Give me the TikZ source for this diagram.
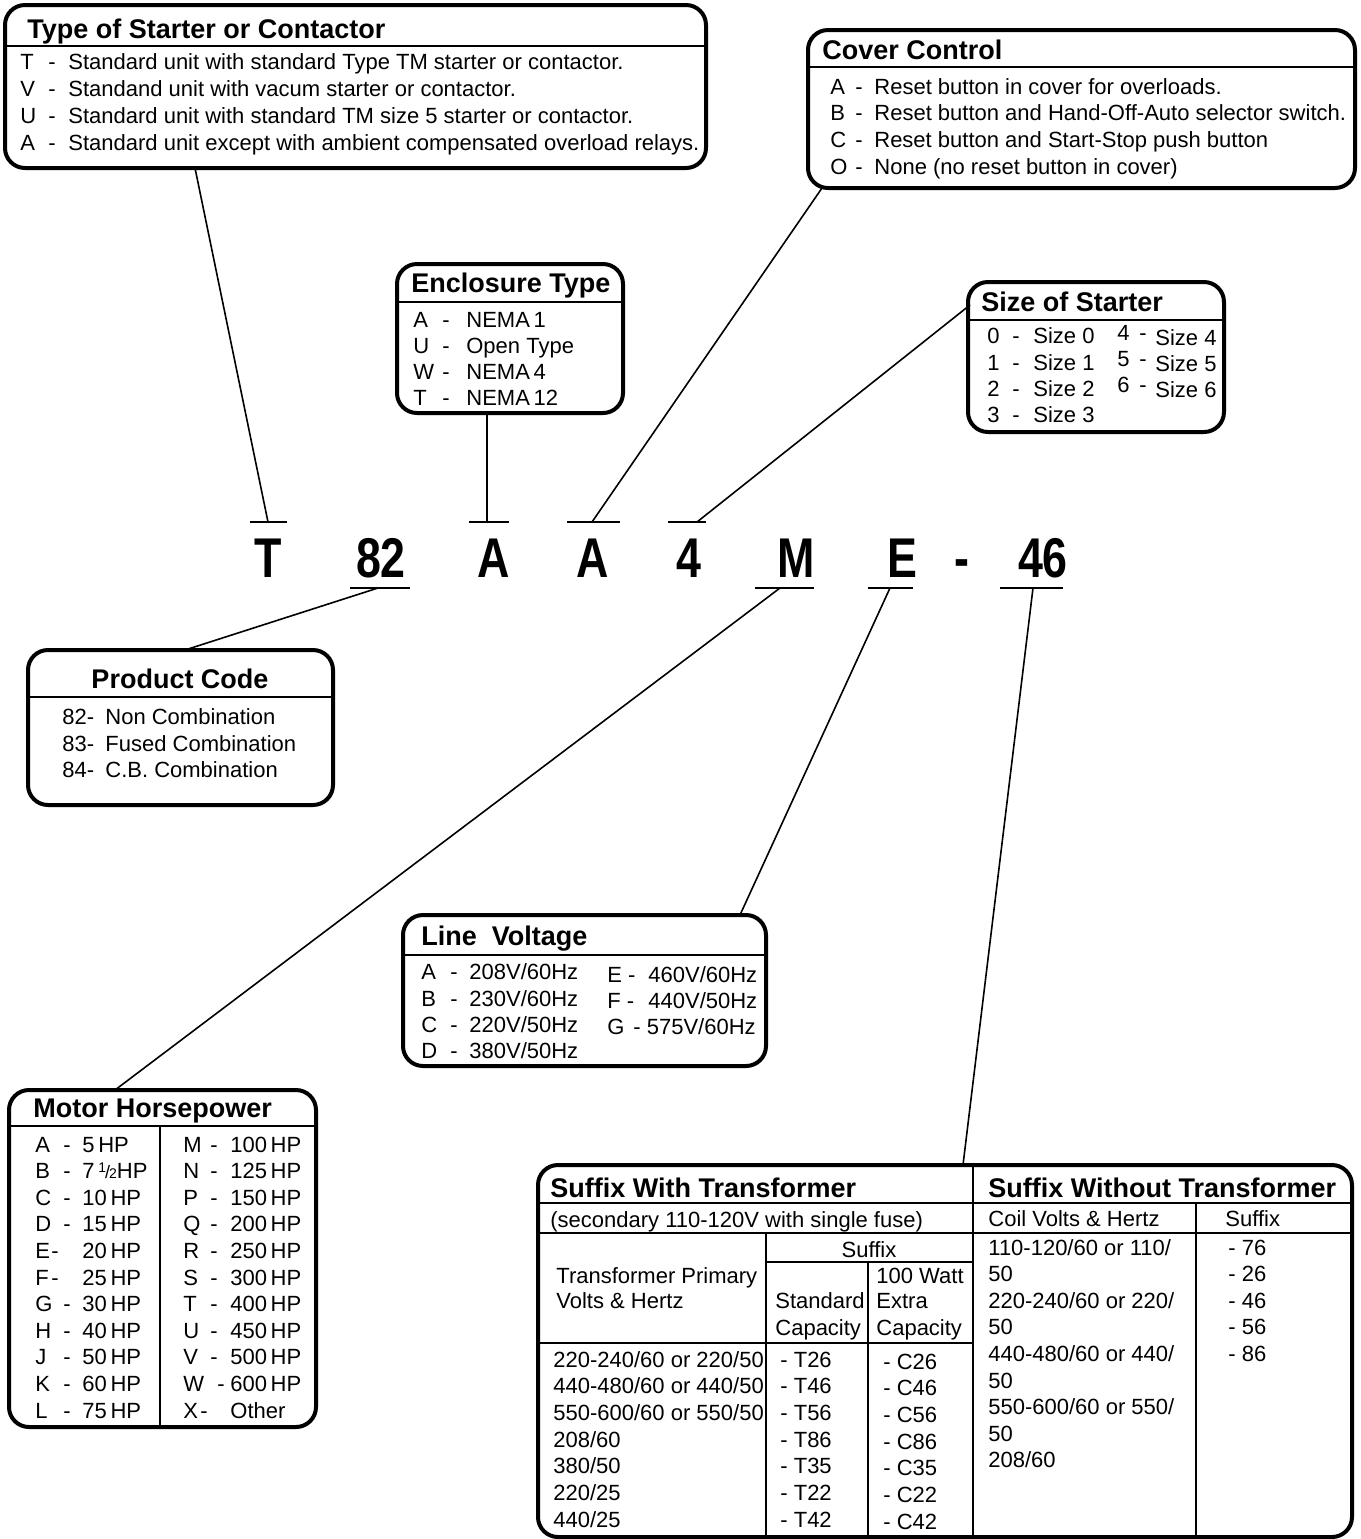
\documentclass[tikz,border=0pt]{standalone}
\usepackage{fontspec}
\setmainfont{Liberation Sans}
\newfontfamily\codefont[FakeStretch=0.8]{Liberation Sans}
\newcommand\cbox[6]{%
  \node[box, minimum width={(#4-#2)*0.5pt}, minimum height={(#5-#3)*0.5pt}] (#1) at ({(#2+#4)/2},{(#3+#5)/2}) {};
  \draw[sep] (#2,#6) -- (#4,#6);}
\newcommand\ab[4]{\makebox[#1][l]{#3}\makebox[#2][l]{-}#4}
\begin{document}
\begin{tikzpicture}[x=0.5pt,y=-0.5pt,
  box/.style={draw, line width=2pt, rounded corners=10pt, inner sep=0pt},
  sep/.style={line width=0.9pt},
  lead/.style={line width=0.8pt},
  tick/.style={line width=1.1pt},
  txt/.style={anchor=base west, inner sep=0pt, font=\fontsize{11}{13}\selectfont},
  ttl/.style={anchor=base west, inner sep=0pt, font=\fontsize{13.5}{16}\selectfont\bfseries},
  code/.style={anchor=base, inner sep=0pt, font=\codefont\fontsize{28}{32}\selectfont\bfseries}]
\useasboundingbox (0,0) rectangle (1361,1539);

% ---------- Type of Starter or Contactor
\cbox{starter}{5}{5}{706}{168}{46}
\node[ttl] at (27,38) {Type of Starter or Contactor};
\node[txt] at (20,69) {\ab{14pt}{10pt}{T}{Standard unit with standard Type TM starter or contactor.}};
\node[txt] at (20,96) {\ab{14pt}{10pt}{V}{Standand unit with vacum starter or contactor.}};
\node[txt] at (20,123) {\ab{14pt}{10pt}{U}{Standard unit with standard TM size 5 starter or contactor.}};
\node[txt] at (20,150) {\ab{14pt}{10pt}{A}{Standard unit except with ambient compensated overload relays.}};

% ---------- Cover Control
\cbox{cover}{808}{30}{1355}{188}{67}
\node[ttl] at (822,59) {Cover Control};
\node[txt] at (830,94) {\ab{12.5pt}{9.5pt}{A}{Reset button in cover for overloads.}};
\node[txt] at (830,120) {\ab{12.5pt}{9.5pt}{B}{Reset button and Hand-Off-Auto selector switch.}};
\node[txt] at (830,147) {\ab{12.5pt}{9.5pt}{C}{Reset button and Start-Stop push button}};
\node[txt] at (830,174) {\ab{12.5pt}{9.5pt}{O}{None (no reset button in cover)}};

% ---------- Enclosure Type
\cbox{encl}{397}{264}{623}{413}{302}
\node[ttl] at (411,292) {Enclosure Type};
\node[txt] at (413,327) {\ab{14.5pt}{12pt}{A}{NEMA\,1}};
\node[txt] at (413,353) {\ab{14.5pt}{12pt}{U}{Open Type}};
\node[txt] at (413,379) {\ab{14.5pt}{12pt}{W}{NEMA\,4}};
\node[txt] at (413,405) {\ab{14.5pt}{12pt}{T}{NEMA\,12}};

% ---------- Size of Starter
\cbox{size}{968}{282}{1224}{432}{320}
\node[ttl] at (981,311) {Size of Starter};
\node[txt] at (987,343) {\ab{12.5pt}{10.5pt}{0}{Size 0}};
\node[txt] at (987,370) {\ab{12.5pt}{10.5pt}{1}{Size 1}};
\node[txt] at (987,396) {\ab{12.5pt}{10.5pt}{2}{Size 2}};
\node[txt] at (987,422) {\ab{12.5pt}{10.5pt}{3}{Size 3}};
\node[txt] at (1117,340) {4 \,-};
\node[txt] at (1117,366) {5 \,-};
\node[txt] at (1117,392) {6 \,-};
\node[txt] at (1155,345) {Size 4};
\node[txt] at (1155,371) {Size 5};
\node[txt] at (1155,397) {Size 6};

% ---------- Product Code
\cbox{prod}{28}{650}{333}{805}{697}
\node[ttl, anchor=base] at (180,688) {Product Code};
\node[txt] at (62,724) {\makebox[21.5pt][l]{82-}Non Combination};
\node[txt] at (62,751) {\makebox[21.5pt][l]{83-}Fused Combination};
\node[txt] at (62,777) {\makebox[21.5pt][l]{84-}C.B. Combination};

% ---------- Line Voltage
\cbox{volt}{403}{915}{766}{1066}{955}
\node[ttl] at (421,945) {Line\ \ Voltage};
\node[txt] at (421,979) {\ab{14.5pt}{9.5pt}{A}{208V/60Hz}};
\node[txt] at (421,1006) {\ab{14.5pt}{9.5pt}{B}{230V/60Hz}};
\node[txt] at (421,1032) {\ab{14.5pt}{9.5pt}{C}{220V/50Hz}};
\node[txt] at (421,1058) {\ab{14.5pt}{9.5pt}{D}{380V/50Hz}};
\node[txt] at (607,982) {\makebox[20.5pt][l]{E -}460V/60Hz};
\node[txt] at (607,1008) {\makebox[20.5pt][l]{F -}440V/50Hz};
\node[txt] at (607,1034) {\makebox[13pt][l]{G}- 575V/60Hz};

% ---------- Motor Horsepower
\cbox{motor}{9}{1090}{316}{1427}{1126}
\draw[sep] (160,1126) -- (160,1427);
\node[ttl] at (33,1117) {Motor Horsepower};
\foreach \l/\d/\v [count=\i from 0] in {A/63/5\,HP,B/63/{7\,\raisebox{.55ex}{\fontsize{7}{7}\selectfont 1}\kern-.5pt{\fontsize{9}{9}\selectfont/}\kern-.5pt{\fontsize{7}{7}\selectfont 2}HP},C/63/10\,HP,D/63/15\,HP,E/51/20\,HP,F/51/25\,HP,G/63/30\,HP,H/63/40\,HP,J/63/50\,HP,K/63/60\,HP,L/63/75\,HP}{
  \node[txt] at (35,1152+26.6*\i) {\l};
  \node[txt] at (\d,1152+26.6*\i) {-};
  \node[txt] at (82,1152+26.6*\i) {\v};}
\foreach \l/\d/\v [count=\i from 0] in {M/210/100\,HP,N/210/125\,HP,P/210/150\,HP,Q/210/200\,HP,R/210/250\,HP,S/210/300\,HP,T/210/400\,HP,U/210/450\,HP,V/210/500\,HP,W/217/600\,HP,X/200/Other}{
  \node[txt] at (183,1152+26.6*\i) {\l};
  \node[txt] at (\d,1152+26.6*\i) {-};
  \node[txt] at (230,1152+26.6*\i) {\v};}

% ---------- Suffix table
\cbox{suffix}{538}{1165}{1352}{1537}{1203}
\draw[sep] (538,1233) -- (1352,1233);
\draw[sep] (973,1165) -- (973,1537);
\draw[sep] (766,1233) -- (766,1537);
\draw[sep] (766,1262) -- (973,1262);
\draw[sep] (868,1262) -- (868,1537);
\draw[sep] (538,1343) -- (973,1343);
\draw[sep] (1196,1203) -- (1196,1537);
\node[ttl] at (550,1197) {Suffix With Transformer};
\node[txt] at (550,1227) {(secondary 110-120V with single fuse)};
\node[txt, anchor=base] at (869,1257) {Suffix};
\node[txt] at (556,1283) {Transformer Primary};
\node[txt] at (556,1308) {Volts \& Hertz};
\node[txt] at (876,1283) {100 Watt};
\node[txt] at (775,1308) {Standard};
\node[txt] at (876,1308) {Extra};
\node[txt] at (775,1335) {Capacity};
\node[txt] at (876,1335) {Capacity};
\foreach \p/\t/\c [count=\i from 0] in {{220-240/60 or 220/50}/T26/C26,{440-480/60 or 440/50}/T46/C46,{550-600/60 or 550/50}/T56/C56,{208/60}/T86/C86,{380/50}/T35/C35,{220/25}/T22/C22,{440/25}/T42/C42}{
  \node[txt] at (553,1367+26.7*\i) {\p};
  \node[txt] at (780,1367+26.7*\i) {- \t};
  \node[txt] at (883,1369+26.7*\i) {- \c};}
\node[ttl] at (988,1197) {Suffix Without Transformer};
\node[txt] at (988,1226) {Coil Volts \& Hertz};
\node[txt] at (1225,1226) {Suffix};
\foreach \t [count=\i from 0] in {{110-120/60 or 110/},50,{220-240/60 or 220/},50,{440-480/60 or 440/},50,{550-600/60 or 550/},50,{208/60}}
  \node[txt] at (988,1255+26.6*\i) {\t};
\foreach \t [count=\i from 0] in {76,26,46,56,86}
  \node[txt] at (1228,1255+26.6*\i) {- \t};

% ---------- Code letters
\node[code] (cT) at (268,577) {T};
\node[code] (c82) at (381,577) {82};
\node[code] (cA1) at (494,577) {A};
\node[code] (cA2) at (593,577) {A};
\node[code] (c4) at (689,577) {4};
\node[code] (cM) at (796,577) {M};
\node[code] (cE) at (902,577) {E};
\node[code] (cD) at (962,577) {-};
\node[code] (c46) at (1043,577) {46};

% ---------- ticks
\coordinate (tT) at (268,522);   \draw[tick] (250,522) -- (287,522);
\coordinate (tA1) at (487,522);  \draw[tick] (469,522) -- (509,522);
\coordinate (tA2) at (592,522);  \draw[tick] (567,522) -- (620,522);
\coordinate (t4) at (697,522);   \draw[tick] (668,522) -- (706,522);
\coordinate (t82) at (378,588);  \draw[tick] (350,588) -- (410,588);
\coordinate (tM) at (780,588);   \draw[tick] (755,588) -- (814,588);
\coordinate (tE) at (890,588);   \draw[tick] (868,588) -- (913,588);
\coordinate (t46) at (1033,588); \draw[tick] (1000,588) -- (1063,588);

% ---------- leaders
\coordinate (sT) at (195,168);
\coordinate (sA1) at (487,413);
\coordinate (sA2) at (822,188);
\coordinate (s4) at (970,305);
\coordinate (s82) at (185,650);
\coordinate (sM) at (115,1090);
\coordinate (sE) at (740,915);
\coordinate (s46) at (963,1165);
\draw[lead] (sT) -- (tT);
\draw[lead] (sA1) -- (tA1);
\draw[lead] (sA2) -- (tA2);
\draw[lead] (s4) -- (t4);
\draw[lead] (s82) -- (t82);
\draw[lead] (sM) -- (tM);
\draw[lead] (sE) -- (tE);
\draw[lead] (s46) -- (t46);
\end{tikzpicture}
\end{document}
